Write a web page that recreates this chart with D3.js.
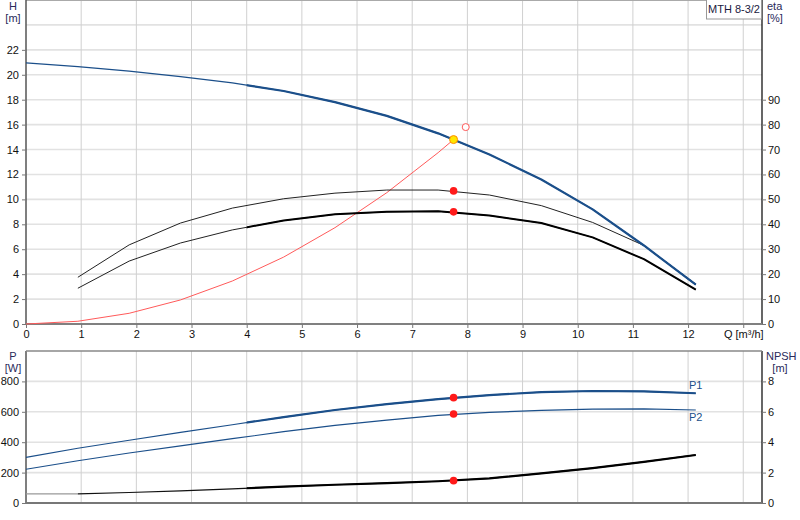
<!DOCTYPE html>
<html><head><meta charset="utf-8">
<script src="https://cdn.jsdelivr.net/npm/d3@7"></script>
<style>body{margin:0;background:#fff}svg{display:block;font-family:"Liberation Sans",Arial,sans-serif}</style>
</head><body><svg id="c" width="800" height="520"></svg>
<script>
// ---- data ----
const qTicks = [0,1,2,3,4,5,6,7,8,9,10,11,12];
const hTicks = [0,2,4,6,8,10,12,14,16,18,20,22];
const etaTicks = [0,10,20,30,40,50,60,70,80,90];
const pTicks = [0,200,400,600,800];
const npshTicks = [0,2,4,6,8];

const qH = [0,0.94,1.87,2.8,3.74,4.67,5.6,6.54,7.47,8.4,9.34,10.27,11.2,12.14];
const headH = [20.96,20.65,20.3,19.85,19.35,18.7,17.8,16.7,15.3,13.6,11.6,9.2,6.3,3.15];

const qEta = [0.94,1.87,2.8,3.74,4.67,5.6,6.54,7.47,8.4,9.34,10.27,11.2,12.14];
const etaPump = [18.75,31.75,40.5,46.5,50.25,52.5,53.75,53.75,51.75,47.5,40.75,31.5,16];
const etaTotal = [14.35,25.25,32.5,37.75,41.5,44,45,45.25,43.5,40.5,34.75,26,13.75];

const qSys = [0,0.94,1.87,2.8,3.74,4.67,5.6,6.54,7.47,7.75];
const hSys = [0,0.22,0.86,1.93,3.45,5.37,7.73,10.54,13.75,14.8];

const qP = [0,0.94,1.87,2.8,3.74,4.67,5.6,6.54,7.47,8.4,9.34,10.27,11.2,12.14];
const powerP1 = [300,360,413,465,515,565,612,650,683,710,730,737,735,722];
const powerP2 = [222,278,329,376,423,469,511,545,576,596,609,618,619,612];
const npsh = [0.6,0.6,0.69,0.8,0.93,1.08,1.2,1.31,1.43,1.62,1.95,2.3,2.7,3.16];

const dutyQ = 7.75, dutyH = 14.8, dutyEtaPump = 53.4, dutyEtaTotal = 45;
const dutyP1 = 693, dutyP2 = 586, dutyNpsh = 1.47;
const reqQ = 7.97, reqH = 15.8;
const title = "MTH 8-3/2";

// ---- scales ----
const svg = d3.select("#c");
const L = 26, R = 762;
const x = d3.scaleLinear().domain([0,13.34]).range([L,R]);
const yH = d3.scaleLinear().domain([0,26]).range([324,0]);
const yEta = d3.scaleLinear().domain([0,130]).range([324,0]);
const yP = d3.scaleLinear().domain([0,1000]).range([503,351]);
const yN = d3.scaleLinear().domain([0,10]).range([503,351]);
const BLUE = "#1b4f8a";

const defs = svg.append("defs");
defs.append("clipPath").attr("id","thickTop").append("rect")
  .attr("x",x(4)).attr("y",0).attr("width",R-x(4)).attr("height",330);
defs.append("clipPath").attr("id","thickBot").append("rect")
  .attr("x",x(4)).attr("y",345).attr("width",R-x(4)).attr("height",170);

// ---- grids ----
const gridQ = d3.range(1,14);
function grid(yScale, vals, y0, y1){
  const g = svg.append("g");
  g.selectAll("line.h").data(vals).join("line")
    .attr("x1",L).attr("x2",R).attr("y1",d=>yScale(d)).attr("y2",d=>yScale(d))
    .attr("stroke","#e2e2e2").attr("stroke-width",1.6);
  g.selectAll("line.v").data(gridQ).join("line")
    .attr("x1",d=>x(d)).attr("x2",d=>x(d)).attr("y1",y0).attr("y2",y1)
    .attr("stroke","#d0d0d0").attr("stroke-width",1);
}
grid(yH, d3.range(2,26,2), 0, 324);
grid(yP, [200,400,600,800], 351, 503);

// top border
svg.append("line").attr("x1",L).attr("x2",R).attr("y1",0.5).attr("y2",0.5).attr("stroke","#aaa");

// ---- axes top ----
const axH = svg.append("g").attr("transform",`translate(${L},0)`)
  .call(d3.axisLeft(yH).tickValues(hTicks).tickSize(4).tickPadding(3));
const axEta = svg.append("g").attr("transform",`translate(${R},0)`)
  .call(d3.axisRight(yEta).tickValues(etaTicks).tickSize(4).tickPadding(2));
const axQ = svg.append("g").attr("transform",`translate(0,324)`)
  .call(d3.axisBottom(x).tickValues(qTicks.concat([13])).tickSize(4).tickPadding(2)
  .tickFormat(d=>d===13?"Q [m³/h]":d));
const axP = svg.append("g").attr("transform",`translate(${L},0)`)
  .call(d3.axisLeft(yP).tickValues(pTicks).tickSize(4).tickPadding(3));
const axN = svg.append("g").attr("transform",`translate(${R},0)`)
  .call(d3.axisRight(yN).tickValues(npshTicks).tickSize(4).tickPadding(2));
[axH,axEta,axQ,axP,axN].forEach(a=>{
  a.selectAll("text").attr("font-size",11).attr("fill","#111").attr("font-family","Liberation Sans, Arial, sans-serif");
  a.selectAll(".tick line").attr("stroke","#777");
});
axH.select(".domain").attr("d","M0,0V324").attr("stroke","#555").attr("stroke-width",1.5);
axEta.select(".domain").attr("d","M0,0V324").attr("stroke","#000").attr("stroke-width",1.2);
axQ.select(".domain").attr("d",`M${L},0H${R}`).attr("stroke","#808080").attr("stroke-width",2);
axP.select(".domain").attr("d","M0,351V503").attr("stroke","#555").attr("stroke-width",1.5);
axN.select(".domain").attr("d","M0,351V503").attr("stroke","#000").attr("stroke-width",1.2);
// bottom panel frame
svg.append("line").attr("x1",L).attr("x2",R).attr("y1",351).attr("y2",351).attr("stroke","#888").attr("stroke-width",1.5);
svg.append("line").attr("x1",L).attr("x2",R).attr("y1",503).attr("y2",503).attr("stroke","#777").attr("stroke-width",2);

// axis titles
function txt(t,xx,yy,anchor,col){svg.append("text").attr("x",xx).attr("y",yy).attr("text-anchor",anchor||"start")
  .attr("font-size",11).attr("fill",col||"#222").text(t);}
txt("H",13,10,"middle","#2a2a5a"); txt("[m]",13,22,"middle","#2a2a5a");
txt("eta",767,10,"start","#2a2a5a"); txt("[%]",767,22,"start","#2a2a5a");
txt("P",13,360,"middle","#2a2a5a"); txt("[W]",13,372,"middle","#2a2a5a");
txt("NPSH",766,360,"start","#2a2a5a"); txt("[m]",780,372,"middle","#2a2a5a");

// legend box
svg.append("rect").attr("x",706.5).attr("y",-1).attr("width",55).attr("height",20)
  .attr("fill","#fff").attr("stroke","#999");
txt(title,734,13,"middle","#1a1a40");

// ---- curves ----
function draw(qs, vs, xs, ys, col, w, clip){
  const pts = qs.map((q,i)=>[q,vs[i]]);
  const p = svg.append("path").datum(pts)
    .attr("d", d3.line().x(d=>xs(d[0])).y(d=>ys(d[1])))
    .attr("fill","none").attr("stroke",col).attr("stroke-width",w)
    .attr("stroke-linejoin","round");
  if(clip) p.attr("clip-path",`url(#${clip})`);
  return p;
}
// system curve
draw(qSys,hSys,x,yH,"#ff5a5a",1);
// efficiency
draw(qEta,etaPump,x,yEta,"#222",1);
draw(qEta,etaTotal,x,yEta,"#222",1);
draw(qEta,etaTotal,x,yEta,"#000",2,"thickTop");
// head
draw(qH,headH,x,yH,BLUE,1.2);
draw(qH,headH,x,yH,BLUE,2.2,"thickTop");
// power
draw(qP,powerP1,x,yP,BLUE,1.2);
draw(qP,powerP1,x,yP,BLUE,2.2,"thickBot");
draw(qP,powerP2,x,yP,BLUE,1.2);
// npsh
draw(qP.slice(0,2),npsh.slice(0,2),x,yN,"#999",1.2);
draw(qP.slice(1),npsh.slice(1),x,yN,"#111",1.2);
draw(qP,npsh,x,yN,"#000",2.2,"thickBot");

// labels
txt("P1",689,389,"start",BLUE);
txt("P2",689,421,"start",BLUE);

// ---- duty markers ----
function dot(xx,yy,r,fill,stroke){svg.append("circle").attr("cx",xx).attr("cy",yy).attr("r",r)
  .attr("fill",fill).attr("stroke",stroke||"none").attr("stroke-width",1);}
dot(x(reqQ),yH(reqH),3.5,"#fff","#ff5a5a");
dot(x(dutyQ),yEta(dutyEtaPump),3.8,"#ff1a1a");
dot(x(dutyQ),yEta(dutyEtaTotal),3.8,"#ff1a1a");
dot(x(dutyQ),yH(dutyH),4,"#ffe600","#ff8c00");
dot(x(dutyQ),yP(dutyP1),3.8,"#ff1a1a");
dot(x(dutyQ),yP(dutyP2),3.8,"#ff1a1a");
dot(x(dutyQ),yN(dutyNpsh),3.8,"#ff1a1a");
</script></body></html>
